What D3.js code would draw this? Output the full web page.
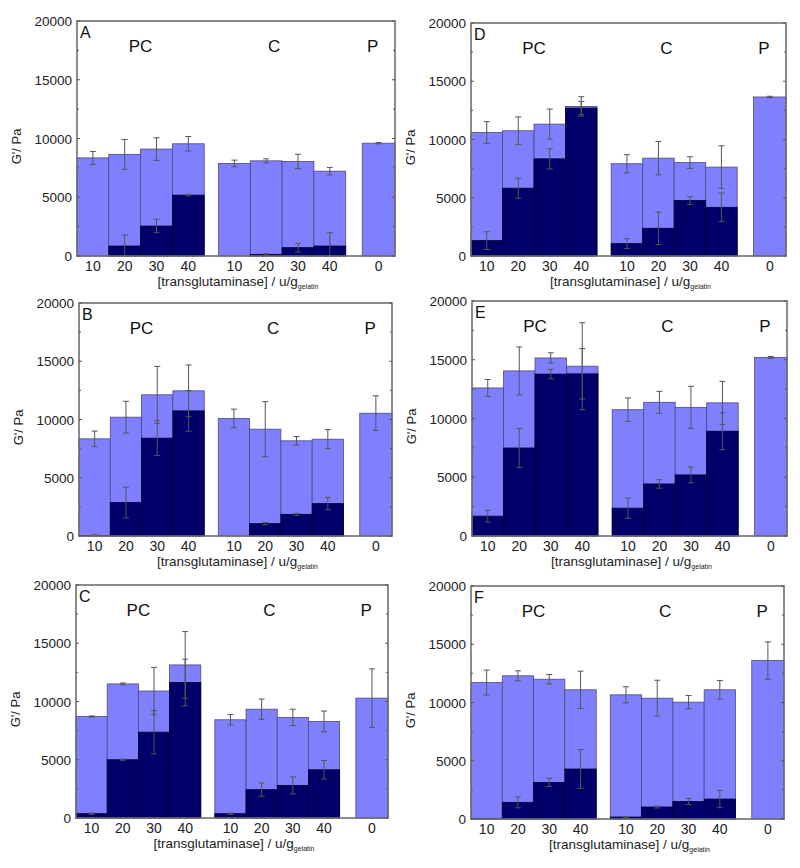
<!DOCTYPE html>
<html>
<head>
<meta charset="utf-8">
<script src="https://cdn.jsdelivr.net/npm/d3@7"></script>
<style>
  html, body { margin: 0; padding: 0; background: #fff; }
  svg text { font-family: "Liberation Sans", Arial, sans-serif; }
</style>
</head>
<body>
<svg id="chart" width="800" height="868"></svg>
<script>
// ---- data ----
const tickLabels = ["10", "20", "30", "40", "10", "20", "30", "40", "0"];
const groupLabels = ["PC", "C", "P"];
const yTicks = [0, 5000, 10000, 15000, 20000];

const totalA    = [8350, 8650, 9100, 9550, 7880, 8100, 8050, 7220, 9600];
const totalErrA = [550, 1270, 960, 620, 280, 170, 610, 320, 60];
const darkA     = [0, 850, 2550, 5180, 0, 140, 710, 850, 0];
const darkErrA  = [0, 930, 570, 60, 0, 60, 370, 1130, 0];

const totalB    = [8340, 10200, 12120, 12460, 10090, 9170, 8170, 8310, 10540];
const totalErrB = [670, 1360, 2440, 2220, 800, 2360, 360, 820, 1490];
const darkB     = [50, 2870, 8400, 10740, 0, 1060, 1860, 2780, 0];
const darkErrB  = [50, 1320, 1500, 1750, 0, 100, 80, 530, 0];

const totalC    = [8710, 11510, 10900, 13140, 8430, 9340, 8630, 8290, 10290];
const totalErrC = [50, 80, 2030, 2860, 450, 870, 710, 890, 2510];
const darkC     = [370, 5000, 7370, 11630, 370, 2430, 2800, 4140, 0];
const darkErrC  = [50, 50, 1860, 2000, 50, 570, 730, 800, 0];

const totalD    = [10600, 10750, 11320, 12840, 7920, 8400, 8020, 7630, 13650];
const totalErrD = [930, 1190, 1290, 830, 780, 1430, 500, 1830, 60];
const darkD     = [1320, 5820, 8340, 12700, 1060, 2380, 4760, 4180, 0];
const darkErrD  = [760, 860, 870, 570, 420, 1390, 330, 1220, 0];

const totalE    = [12600, 14050, 15150, 14450, 10750, 11380, 10950, 11330, 15200];
const totalErrE = [720, 2040, 440, 3700, 1000, 930, 1790, 1830, 80];
const darkE     = [1690, 7490, 13780, 13800, 2370, 4430, 5200, 8920, 0];
const darkErrE  = [500, 1670, 400, 2150, 860, 360, 670, 1570, 0];

const totalF    = [11710, 12290, 12000, 11090, 10660, 10370, 10030, 11090, 13600];
const totalErrF = [1070, 430, 400, 1600, 690, 1540, 570, 800, 1600];
const darkF     = [30, 1430, 3140, 4290, 170, 1030, 1510, 1710, 0];
const darkErrF  = [0, 470, 360, 1660, 50, 80, 260, 740, 0];

// ---- layout ----
const panels = [
  {id: "A", total: totalA, totalErr: totalErrA, dark: darkA, darkErr: darkErrA, l: 77,  t: 21,  r: 395, b: 256},
  {id: "D", total: totalD, totalErr: totalErrD, dark: darkD, darkErr: darkErrD, l: 471, t: 23,  r: 786, b: 256},
  {id: "B", total: totalB, totalErr: totalErrB, dark: darkB, darkErr: darkErrB, l: 79,  t: 303, r: 392, b: 536},
  {id: "E", total: totalE, totalErr: totalErrE, dark: darkE, darkErr: darkErrE, l: 472, t: 301, r: 787, b: 536},
  {id: "C", total: totalC, totalErr: totalErrC, dark: darkC, darkErr: darkErrC, l: 76,  t: 585, r: 388, b: 818},
  {id: "F", total: totalF, totalErr: totalErrF, dark: darkF, darkErr: darkErrF, l: 471, t: 586, r: 784, b: 819}
];

// bar slots along a 0..10 axis: 4 PC, gap, 4 C, gap, 1 P
const slotStart = tickLabels.map((d, i) => i < 4 ? i : (i < 8 ? i + 0.45 : 8.97));
const slotEnd = slotStart.map((s, i) => i === 8 ? 10 : s + 1);
const groupPos = [2, 6.2, 9.3];

const LIGHT = "#8080ff", DARK = "#000068";
const svg = d3.select("#chart");

panels.forEach(p => {
  const x = d3.scaleLinear().domain([0, 10]).range([p.l, p.r]);
  const y = d3.scaleLinear().domain([0, 20000]).range([p.b, p.t]);
  const g = svg.append("g");

  // light (total) bars
  g.selectAll(".lb").data(p.total).join("rect")
    .attr("x", (d, i) => x(slotStart[i]))
    .attr("width", (d, i) => x(slotEnd[i]) - x(slotStart[i]))
    .attr("y", d => y(d))
    .attr("height", d => y(0) - y(d))
    .attr("fill", LIGHT)
    .attr("stroke", "#4a4a7a").attr("stroke-width", 0.8);

  // dark bars
  g.selectAll(".db").data(p.dark).join("rect")
    .attr("x", (d, i) => x(slotStart[i]))
    .attr("width", (d, i) => x(slotEnd[i]) - x(slotStart[i]))
    .attr("y", d => y(d))
    .attr("height", d => y(0) - y(d))
    .attr("fill", DARK)
    .attr("stroke", "#000030").attr("stroke-width", d => d > 0 ? 0.8 : 0);

  // error bars
  function errBars(vals, errs, color) {
    vals.forEach((v, i) => {
      const e = errs[i];
      if (!e) return;
      const cx = (x(slotStart[i]) + x(slotEnd[i])) / 2;
      const y1 = y(v + e), y2 = y(Math.max(0, v - e));
      g.append("line").attr("x1", cx).attr("x2", cx).attr("y1", y1).attr("y2", y2)
        .attr("stroke", color).attr("stroke-width", 1);
      [y1, y2].forEach(yy => g.append("line")
        .attr("x1", cx - 3).attr("x2", cx + 3).attr("y1", yy).attr("y2", yy)
        .attr("stroke", color).attr("stroke-width", 1));
    });
  }
  errBars(p.total, p.totalErr, "#555");
  errBars(p.dark, p.darkErr, "#555");

  // frame
  g.append("rect").attr("x", p.l).attr("y", p.t)
    .attr("width", p.r - p.l).attr("height", p.b - p.t)
    .attr("fill", "none").attr("stroke", "#6f6f6f").attr("stroke-width", 1.6);

  // inner ticks left/right
  const minor = d3.range(0, 20001, 2500);
  minor.forEach(v => {
    const len = v % 5000 === 0 ? 3 : 2;
    g.append("line").attr("x1", p.l).attr("x2", p.l + len).attr("y1", y(v)).attr("y2", y(v))
      .attr("stroke", "#555").attr("stroke-width", 1);
    g.append("line").attr("x1", p.r).attr("x2", p.r - len).attr("y1", y(v)).attr("y2", y(v))
      .attr("stroke", "#555").attr("stroke-width", 1);
  });

  // y tick labels
  g.selectAll(".yt").data(yTicks).join("text")
    .attr("x", p.l - 5).attr("y", d => y(d) + 5)
    .attr("text-anchor", "end").attr("font-size", 13.5).attr("fill", "#222")
    .text(d => d);

  // x tick labels
  g.selectAll(".xt").data(tickLabels).join("text")
    .attr("x", (d, i) => (x(slotStart[i]) + x(slotEnd[i])) / 2)
    .attr("y", p.b + 15)
    .attr("text-anchor", "middle").attr("font-size", 14).attr("fill", "#222")
    .text(d => d);

  // x axis title
  const xt = g.append("text")
    .attr("x", (p.l + p.r) / 2 + 2).attr("y", p.b + 30)
    .attr("text-anchor", "middle").attr("font-size", 13.5).attr("fill", "#222");
  xt.append("tspan").text("[transglutaminase] / u/g");
  xt.append("tspan").attr("dy", 3).attr("font-size", 7).text("gelatin");

  // y axis title
  g.append("text")
    .attr("transform", `translate(${p.l - 56},${(p.t + p.b) / 2 + 8}) rotate(-90)`)
    .attr("text-anchor", "middle").attr("font-size", 13).attr("fill", "#222")
    .text("G'/ Pa");

  // panel letter
  g.append("text").attr("x", p.l + 3).attr("y", p.t + 17)
    .attr("font-size", 16).attr("fill", "#111").text(p.id);

  // group labels
  g.selectAll(".gl").data(groupLabels).join("text")
    .attr("x", (d, i) => x(groupPos[i])).attr("y", p.t + 31)
    .attr("text-anchor", "middle").attr("font-size", 17).attr("fill", "#111")
    .text(d => d);
});
</script>
</body>
</html>
